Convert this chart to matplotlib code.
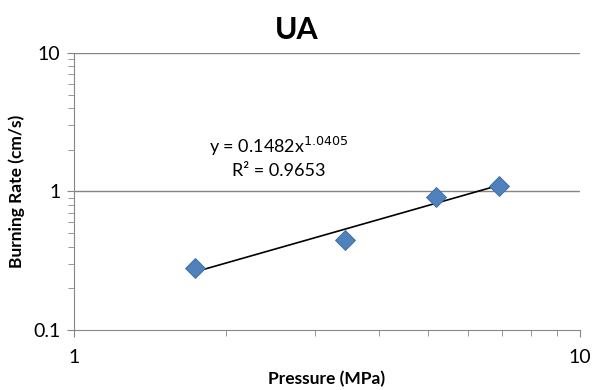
import numpy as np
import matplotlib
matplotlib.use("Agg")
import matplotlib.pyplot as plt
from matplotlib.ticker import LogLocator, NullFormatter, FuncFormatter

plt.rcParams['font.family'] = ['Lato', 'DejaVu Sans']

# Data
pressure = [1.73, 3.43, 5.19, 6.93]
burn_rate = [0.278, 0.45, 0.905, 1.087]

# Power-law trendline y = a * x^b
coef_a = 0.1482
coef_b = 1.0405
r_squared = 0.9653

fig = plt.figure(figsize=(5.93, 3.90), dpi=100)
ax = fig.add_axes([0.125, 0.154, 0.853, 0.71])

ax.set_xscale('log')
ax.set_yscale('log')
ax.set_xlim(1, 10)
ax.set_ylim(0.1, 10)

# major gridlines on y only
for yv in [1, 10]:
    ax.axhline(yv, color='#868686', lw=1.0, zorder=1)

xt = np.array([min(pressure), max(pressure)])
ax.plot(xt, coef_a * xt ** coef_b, color='black', lw=1.2, zorder=3)

ax.plot(pressure, burn_rate, linestyle='none', marker='D', markersize=10,
        markerfacecolor='#4F81BD', markeredgecolor='#3A6A9E', markeredgewidth=0.6,
        zorder=4)

for s in ['top', 'right']:
    ax.spines[s].set_visible(False)
for s in ['left', 'bottom']:
    ax.spines[s].set_color('#868686')

ax.xaxis.set_major_locator(LogLocator(base=10, numticks=5))
ax.yaxis.set_major_locator(LogLocator(base=10, numticks=5))
ax.xaxis.set_minor_locator(LogLocator(base=10, subs=np.arange(2, 10), numticks=20))
ax.yaxis.set_minor_locator(LogLocator(base=10, subs=np.arange(2, 10), numticks=20))
ax.xaxis.set_minor_formatter(NullFormatter())
ax.yaxis.set_minor_formatter(NullFormatter())
fmt = FuncFormatter(lambda v, p: ('%g' % v))
ax.xaxis.set_major_formatter(fmt)
ax.yaxis.set_major_formatter(fmt)

ax.tick_params(which='both', direction='out', color='#868686', labelsize=14)
ax.tick_params(which='major', length=5)
ax.tick_params(which='minor', length=4)
ax.tick_params(axis='x', pad=9)
ax.tick_params(axis='y', pad=5)

ax.set_xlabel('Pressure (MPa)', fontsize=12.5, fontweight='bold', labelpad=3)
ax.set_ylabel('Burning Rate (cm/s)', fontsize=12.5, fontweight='bold', labelpad=6)
fig.suptitle('UA', fontsize=22, fontweight='bold', y=0.96)

ax.text(0.405, 0.664, r'y = %.4fx$^{%.4f}$' % (coef_a, coef_b), transform=ax.transAxes,
        ha='center', va='center', fontsize=13)
ax.text(0.405, 0.574, 'R² = %.4f' % r_squared, transform=ax.transAxes,
        ha='center', va='center', fontsize=13)

fig.savefig('out.png', dpi=100)
